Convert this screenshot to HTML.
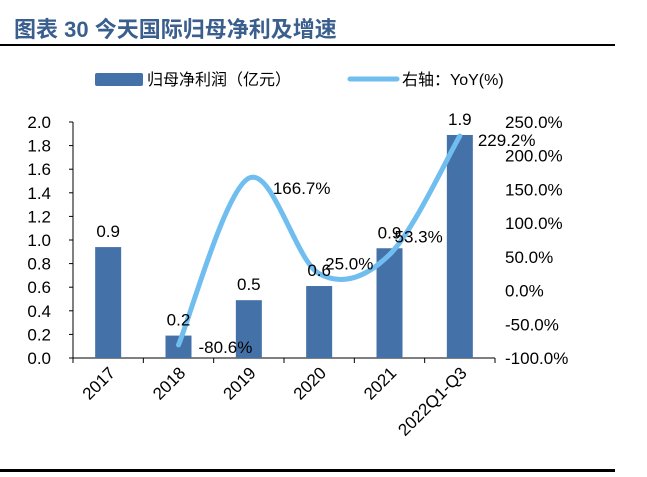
<!DOCTYPE html>
<html><head><meta charset="utf-8"><style>
body{margin:0;background:#fff;width:647px;height:472px;overflow:hidden;font-family:"Liberation Sans","Noto Sans CJK SC",sans-serif;}
</style></head><body>
<svg width="647" height="472" font-family="Liberation Sans, Noto Sans CJK SC, sans-serif">
<text x="14" y="37" font-size="22" font-weight="bold" fill="#3a5f8f">图表 30 今天国际归母净利及增速</text>
<rect x="0" y="44" width="615" height="2" fill="#000"/>
<rect x="0" y="469" width="615" height="3" fill="#000"/>
<rect x="95" y="73" width="48" height="13" rx="2" fill="#4472a8"/>
<text x="147" y="85" font-size="16" fill="#000">归母净利润（亿元）</text>
<line x1="350" y1="79" x2="397" y2="79" stroke="#70bdf0" stroke-width="5" stroke-linecap="round"/>
<text x="402" y="85" font-size="16" fill="#000">右轴：YoY(%)</text>
<g id="plot"></g>
</svg>
<script>
const categories=["2017","2018","2019","2020","2021","2022Q1-Q3"];
const profit=[0.94,0.19,0.49,0.61,0.93,1.89];
const profitLabels=["0.9","0.2","0.5","0.6","0.9","1.9"];
const yoy=[null,-80.6,166.7,25.0,53.3,229.2];
const yoyLabels=["","-80.6%","166.7%","25.0%","53.3%","229.2%"];
const leftTicks=[0,0.2,0.4,0.6,0.8,1.0,1.2,1.4,1.6,1.8,2.0];
const rightTicks=[-100,-50,0,50,100,150,200,250];
const NS="http://www.w3.org/2000/svg";
const g=document.getElementById('plot');
const X0=73,X1=495,Y0=358,Y1=122,cw=(X1-X0)/categories.length;
const yL=v=>Y0-(v/2)*(Y0-Y1);
const yR=v=>Y0-((v+100)/350)*(Y0-Y1);
const xC=i=>X0+cw*(i+0.5);
function mk(t,a,txt){const e=document.createElementNS(NS,t);for(const k in a)e.setAttribute(k,a[k]);if(txt!==undefined)e.textContent=txt;g.appendChild(e);return e;}
let ax=mk('line',{x1:X0,y1:Y0,x2:X1,y2:Y0,stroke:'#000'});


let ay=mk('line',{x1:X0,y1:Y1,x2:X0,y2:Y0,stroke:'#000'});


leftTicks.forEach(v=>{
  mk('line',{x1:X0-4,y1:yL(v),x2:X0,y2:yL(v),stroke:'#000'});
  let t=mk('text',{x:51,y:yL(v)+6,'font-size':17,'text-anchor':'end'},v.toFixed(1));
  
  
});
rightTicks.forEach(v=>{
  let t=mk('text',{x:505,y:yR(v)+6,'font-size':17},v.toFixed(1)+'%');
  
  
});
for(let i=0;i<=categories.length;i++)mk('line',{x1:X0+cw*i,y1:Y0,x2:X0+cw*i,y2:Y0+5,stroke:'#000'});
categories.forEach((c,i)=>{
  const h=Y0-yL(profit[i]);
  let b=mk('rect',{x:xC(i)-13,y:yL(profit[i]),width:26,height:h,fill:'#4472a8'});
  
  
  const tx=xC(i)+8,ty=Y0+16;
  let cl=mk('text',{x:tx,y:ty,'font-size':17,'text-anchor':'end',transform:`rotate(-45 ${tx} ${ty})`},c);
  
  
});
const pts=[];yoy.forEach((v,i)=>{if(v!==null)pts.push([xC(i),yR(v)]);});
let d='M'+pts[0][0]+','+pts[0][1];
for(let i=0;i<pts.length-1;i++){
  const p0=pts[Math.max(0,i-1)],p1=pts[i],p2=pts[i+1],p3=pts[Math.min(pts.length-1,i+2)];
  const c1=[p1[0]+(p2[0]-p0[0])/6,p1[1]+(p2[1]-p0[1])/6],c2=[p2[0]-(p3[0]-p1[0])/6,p2[1]-(p3[1]-p1[1])/6];
  d+=` C${c1[0]},${c1[1]} ${c2[0]},${c2[1]} ${p2[0]},${p2[1]}`;
}
let ln=mk('path',{d:d,fill:'none',stroke:'#70bdf0','stroke-width':5,'stroke-linecap':'round'});


categories.forEach((c,i)=>{
  let l=mk('text',{x:xC(i),y:yL(profit[i])-10,'font-size':17,'text-anchor':'middle'},profitLabels[i]);
  
  
});
const offs=[[0,0],[20,8],[24,16],[6,-4],[5,-12],[18,10]];
yoy.forEach((v,i)=>{if(v===null)return;
  let t=mk('text',{x:xC(i)+offs[i][0],y:yR(v)+offs[i][1],'font-size':17},yoyLabels[i]);
  
  
});
</script>
</body></html>
